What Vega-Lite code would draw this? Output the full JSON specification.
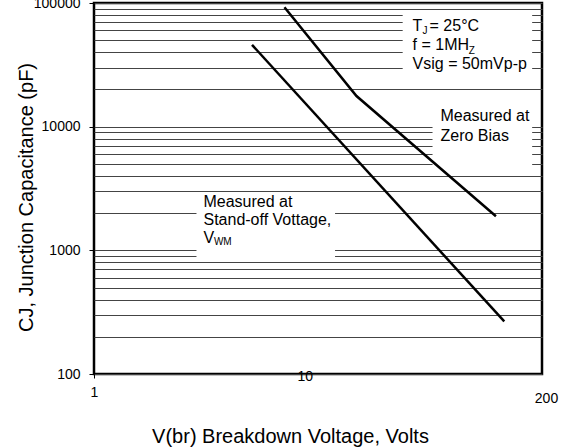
{
  "$schema": "https://vega.github.io/schema/vega-lite/v6.json",
  "width": 448,
  "height": 371,
  "autosize": {"type": "none"},
  "padding": {"left": 94, "top": 3, "right": 21, "bottom": 74},
  "background": "white",
  "config": {
    "font": "Liberation Sans",
    "view": {"stroke": "black", "strokeWidth": 2.5}
  },
  "datasets": {
    "curves": [
      {"series": "zero", "v": 9.51, "c": 92300},
      {"series": "zero", "v": 22.3, "c": 17700},
      {"series": "zero", "v": 116, "c": 1886},
      {"series": "standoff", "v": 6.48, "c": 45900},
      {"series": "standoff", "v": 128, "c": 266}
    ],
    "boxes": [
      {"v": 38.5, "v2": 178, "c": 86100, "c2": 26080},
      {"v": 54.8, "v2": 178, "c": 17950, "c2": 4510},
      {"v": 3.36, "v2": 17.3, "c": 2880, "c2": 855}
    ],
    "notes": [
      {"label": "T", "kind": "main", "v": 43.3, "c": 59290},
      {"label": "J", "kind": "sub", "v": 48.7, "c": 56070},
      {"label": "= 25°C", "kind": "main", "v": 52.9, "c": 59290},
      {"label": "f = 1MH", "kind": "main", "v": 43.3, "c": 41580},
      {"label": "Z", "kind": "sub", "v": 84, "c": 38600},
      {"label": "Vsig = 50mVp-p", "kind": "main", "v": 43.3, "c": 29160},
      {"label": "Measured at", "kind": "main", "v": 60.2, "c": 11050},
      {"label": "Zero Bias", "kind": "main", "v": 60.2, "c": 7605},
      {"label": "Measured at", "kind": "main", "v": 3.65, "c": 2260},
      {"label": "Stand-off Vottage,", "kind": "main", "v": 3.65, "c": 1615},
      {"label": "V", "kind": "main", "v": 3.65, "c": 1154},
      {"label": "WM", "kind": "sub", "v": 4.13, "c": 1112}
    ]
  },
  "encoding": {
    "x": {
      "field": "v",
      "type": "quantitative",
      "scale": {"type": "log", "domain": [1, 200], "nice": false},
      "axis": {
        "title": "V(br) Breakdown Voltage, Volts",
        "values": [1, 10, 200],
        "format": "d",
        "grid": false,
        "domain": false,
        "tickSize": 4,
        "tickColor": "black",
        "tickOpacity": {"condition": {"test": "datum.value == 1", "value": 1}, "value": 0},
        "labelFontSize": 14,
        "labelColor": "black",
        "labelBaseline": "middle",
        "labelAlign": "center",
        "labelFlush": false,
        "labelOverlap": false,
        "labelPadding": {"condition": [{"test": "datum.value == 10", "value": -2}, {"test": "datum.value == 200", "value": 20}], "value": 14},
        "labelOffset": {"condition": [{"test": "datum.value == 10", "value": 16}, {"test": "datum.value == 200", "value": 4}], "value": 0},
        "titleFontSize": 20,
        "titleFontWeight": "normal",
        "titleColor": "black",
        "titleX": 196,
        "titleY": 62,
        "titleAlign": "center",
        "titleBaseline": "middle"
      }
    },
    "y": {
      "field": "c",
      "type": "quantitative",
      "scale": {"type": "log", "domain": [100, 100000], "nice": false},
      "axis": {
        "title": "CJ, Junction  Capacitance (pF)",
        "values": [100, 200, 300, 400, 500, 600, 700, 800, 900, 1000, 2000, 3000, 4000, 5000, 6000, 7000, 8000, 9000, 10000, 20000, 30000, 40000, 50000, 60000, 70000, 80000, 90000, 100000],
        "grid": true,
        "gridColor": "#444444",
        "gridWidth": 1,
        "domain": false,
        "tickSize": 5,
        "tickColor": "black",
        "tickOpacity": {"condition": {"test": "indexof([100,1000,10000,100000], datum.value) >= 0", "value": 1}, "value": 0},
        "labelExpr": "indexof([100,1000,10000,100000], datum.value) >= 0 ? format(datum.value, 'd') : ''",
        "labelFontSize": 14,
        "labelColor": "black",
        "labelPadding": 9,
        "labelOverlap": false,
        "labelFlush": false,
        "titleFontSize": 20,
        "titleFontWeight": "normal",
        "titleColor": "black",
        "titleX": -68,
        "titleY": 194,
        "titleAlign": "center",
        "titleBaseline": "middle"
      }
    }
  },
  "layer": [
    {
      "data": {"name": "boxes"},
      "mark": {"type": "rect", "fill": "white", "stroke": null},
      "encoding": {
        "x2": {"field": "v2"},
        "y2": {"field": "c2"}
      }
    },
    {
      "data": {"name": "curves"},
      "mark": {"type": "line", "color": "black", "strokeWidth": 2.5},
      "encoding": {
        "detail": {"field": "series", "type": "nominal"}
      }
    },
    {
      "data": {"name": "notes"},
      "mark": {"type": "text", "align": "left", "baseline": "alphabetic", "color": "black", "font": "Liberation Sans"},
      "encoding": {
        "text": {"field": "label", "type": "nominal"},
        "size": {"field": "kind", "type": "ordinal", "scale": {"domain": ["main", "sub"], "range": [16, 10]}, "legend": null}
      }
    }
  ]
}
